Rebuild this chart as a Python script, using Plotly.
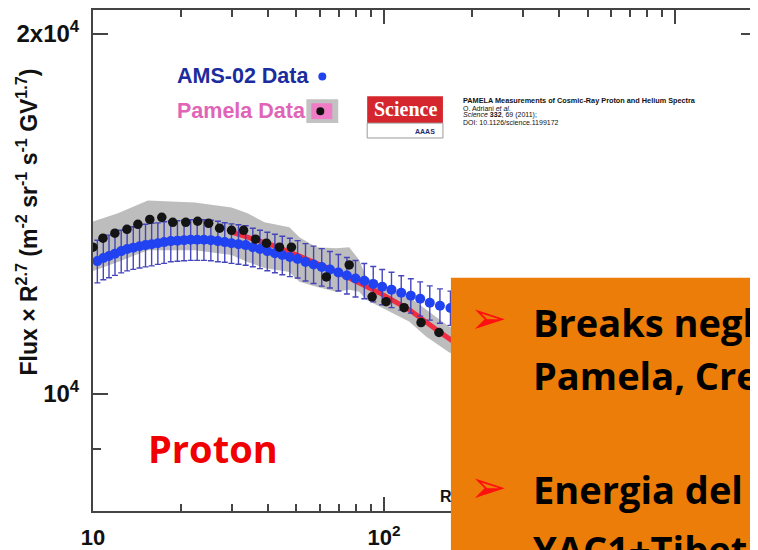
import plotly.graph_objects as go

# ---------------- data ----------------
ams_R = [10.35, 10.85, 11.35, 11.9, 12.5, 13.1, 13.75, 14.45, 15.15, 15.9,
         16.7, 17.55, 18.5, 19.5, 20.55, 21.65, 22.8, 24.05, 25.4, 26.85,
         28.35, 29.9, 31.6, 33.45, 35.4, 37.45, 39.7, 42.15, 44.7, 47.45,
         50.45, 53.7, 57.25, 61.05, 65.15, 69.65, 74.5, 79.75, 85.5, 91.75,
         98.5, 106, 114.5, 123.5, 133, 143.5, 155.5, 169]
ams_F = [12914, 12990, 13040, 13100, 13164, 13216, 13252, 13290, 13317, 13342,
         13366, 13394, 13420, 13432, 13445, 13457, 13457, 13457, 13445, 13420,
         13394, 13366, 13342, 13317, 13265, 13216, 13164, 13113, 13064, 13014,
         12966, 12892, 12829, 12767, 12708, 12635, 12562, 12490, 12433, 12359,
         12290, 12223, 12152, 12083, 12012, 11920, 11850, 11800]
ams_err_pct = [4.1, 4.1, 4.1, 4.1, 4.1, 4.1, 4.1, 4.1, 4.1, 4.1,
               4.0, 4.0, 3.9, 3.9, 3.9, 3.9, 3.9, 3.9, 3.9, 3.9,
               3.8, 3.8, 3.8, 3.8, 3.7, 3.7, 3.7, 3.7, 3.7, 3.7,
               3.6, 3.6, 3.6, 3.6, 3.5, 3.5, 3.5, 3.5, 3.4, 3.4,
               3.4, 3.4, 3.3, 3.3, 3.3, 3.3, 3.3, 3.3]

pam_R = [10.0, 10.82, 11.89, 13.08, 14.26, 15.67, 17.23, 18.79, 20.83, 22.88,
         24.96, 27.22, 29.92, 32.90, 36.16, 39.44, 43.70, 48.03, 63.31, 75.88,
         90.97, 101.6, 117.1, 133.9, 154.3]
pam_F = [13265, 13497, 13625, 13729, 13862, 13993, 14048, 13914, 13914, 13943,
         13888, 13757, 13703, 13703, 13471, 13366, 13265, 13265, 12526, 12818,
         12057, 11944, 11806, 11472, 11256]

band_R = [9.8, 12.18, 15.43, 18.06, 22.35, 29.92, 33.95, 38.82, 47.28, 51.17,
          58.50, 68.48, 75.88, 82.11, 86.78, 101.6, 121.8, 139.3, 167.0, 211.5]
band_hi = [13914, 14157, 14511, 14484, 14454, 14318, 14157, 13914, 13783, 13521,
           13265, 13240, 13265, 12939, 12526, 12290, 12057, 11763, 11385, 11107]
band_lo = [12647, 12892, 13189, 13189, 13189, 13064, 12892, 12743, 12647, 12409,
           12290, 12175, 12223, 12175, 11989, 11763, 11495, 11171, 10835, 10590]

fit_R = [29.92, 40.39, 51.17, 70.12, 96.14, 121.8, 154.3, 180.6]
fit_F = [13652, 13342, 13039, 12621, 12152, 11763, 11276, 10980]

x_tickvals = [10, 100, 1000]
x_ticktext = ["<b>10</b>", "<b>10<sup>2</sup></b>", ""]
x_minor = [20, 30, 40, 50, 60, 70, 80, 90, 200, 300, 400, 500, 600, 700, 800, 900]
y_tickvals = [10000, 20000]
y_ticktext = ["<b>10<sup>4</sup></b>", "<b>2x10<sup>4</sup></b>"]
y_minor = [9000]

# ---------------- geometry (page pixels; the page body adds an 8 px offset) ----------------
OFF = 8
L, Rpx, T, B = 93, 758, 8, 513
W, H = Rpx - L, B - T
FIG_W, FIG_H = 758 - OFF, 550 - OFF


def px(x):
    return (x - L) / W


def py(y):
    return (B - y) / H


fig = go.Figure()

# Pamela systematic band
fig.add_trace(go.Scatter(
    x=band_R + band_R[::-1], y=band_hi + band_lo[::-1],
    fill="toself", fillcolor="#bdbdbd", line=dict(width=0),
    mode="lines", hoverinfo="skip"))

# Pamela fit line
fig.add_trace(go.Scatter(
    x=fit_R, y=fit_F, mode="lines",
    line=dict(color="rgba(245,30,50,0.9)", width=5)))

# AMS-02 data
ams_err = [f * p / 100 for f, p in zip(ams_F, ams_err_pct)]
fig.add_trace(go.Scatter(
    x=ams_R, y=ams_F, mode="markers",
    marker=dict(size=10, color="#2142f0"),
    error_y=dict(type="data", array=ams_err, arrayminus=ams_err,
                 color="rgba(60,60,185,0.95)", thickness=1.4, width=3)))

# Pamela data
fig.add_trace(go.Scatter(
    x=pam_R, y=pam_F, mode="markers",
    marker=dict(size=9.5, color="#141414")))

axis_common = dict(
    showline=True, linecolor="#444", linewidth=2, mirror="allticks",
    ticks="inside", tickcolor="#444", tickwidth=1.5,
    showgrid=False, zeroline=False,
)

fig.update_layout(
    width=FIG_W, height=FIG_H,
    margin=dict(l=L - OFF, r=0, t=T - OFF, b=FIG_H - (B - OFF)),
    paper_bgcolor="white", plot_bgcolor="white",
    showlegend=False,
    font=dict(family="Liberation Sans"),
    xaxis=dict(type="log", range=[1, 3.2774], tickmode="array",
               tickvals=x_tickvals, ticktext=x_ticktext, ticklen=14,
               ticklabelstandoff=6,
               tickfont=dict(family="Liberation Sans", size=22, color="#111"),
               minor=dict(tickmode="array", tickvals=x_minor, ticks="inside",
                          ticklen=7, tickwidth=1.5, tickcolor="#444",
                          showgrid=False),
               **axis_common),
    yaxis=dict(type="log", range=[3.9022, 4.3209], tickmode="array",
               tickvals=y_tickvals, ticktext=y_ticktext, ticklen=15,
               ticklabelstandoff=7,
               tickfont=dict(family="Liberation Sans", size=24, color="#111"),
               minor=dict(tickmode="array", tickvals=y_minor, ticks="inside",
                          ticklen=8, tickwidth=1.5, tickcolor="#444",
                          showgrid=False),
               **axis_common),
)

shapes = []
ann = []


def rect(x0, y0, x1, y1, fill, line_color=None, lw=0, kind="rect"):
    shapes.append(dict(type=kind, xref="paper", yref="paper",
                       x0=px(x0), x1=px(x1), y0=py(y1), y1=py(y0),
                       fillcolor=fill, layer="above",
                       line=dict(color=line_color or fill, width=lw)))


def text(x, y, s, size, color="#111", family="Liberation Sans",
         xanchor="center", angle=0):
    ann.append(dict(xref="paper", yref="paper", x=px(x), y=py(y), text=s,
                    showarrow=False, xanchor=xanchor, yanchor="middle",
                    textangle=angle,
                    font=dict(family=family, size=size, color=color)))


# legend
text(175, 75, "<b>AMS-02 Data</b>", 21.5, color="#1b2c9e", xanchor="left")
rect(319, 71, 327, 79, "#2142f0", kind="circle")
text(175, 110, "<b>Pamela Data</b>", 21.5, color="#e064b8", xanchor="left")
rect(307, 98, 339, 122, "#c2c2c2")
rect(312, 102, 333, 118, "#f07cc6")
rect(317, 106, 325, 114, "#111111", kind="circle")

# Science logo and citation
rect(368, 95, 444, 122, "#d6262d")
rect(368, 122, 444, 137, "#ffffff", line_color="#9a9a9a", lw=1)
text(406, 108, "<b>Science</b>", 20, color="white", family="Liberation Serif")
text(438, 130, "<b>AAAS</b>", 7, color="#1c2a70", xanchor="right")
text(462, 99, "<b>PAMELA Measurements of Cosmic-Ray Proton and Helium Spectra</b>",
     7.3, xanchor="left")
text(462, 107, "O. Adriani <i>et al.</i>", 7, xanchor="left")
text(462, 114, "<i>Science</i> <b>332</b>, 69 (2011);", 7, xanchor="left")
text(462, 121, "DOI: 10.1126/science.1199172", 7, xanchor="left")

# axis titles
text(27, 222, "<b>Flux × R<sup>2.7</sup> (m<sup>-2</sup> sr<sup>-1</sup> "
     "s<sup>-1</sup> GV<sup>1.7</sup>)</b>", 23, angle=-90)
text(447, 498, "<b>R</b>", 16)

# Proton label
text(213, 450, "<b>Proton</b>", 38, color="#f00000", family="Open Sans")

# orange overlay box
rect(452, 278, 780, 570, "#ec7d09")
text(490, 318, "➢", 44, color="#ff1010", family="DejaVu Sans")
text(490, 488, "➢", 44, color="#ff1010", family="DejaVu Sans")
text(532, 322, "<b>Breaks negl</b>", 38, color="#000", family="Open Sans",
     xanchor="left")
text(532, 376, "<b>Pamela, Cre</b>", 38, color="#000", family="Open Sans",
     xanchor="left")
text(532, 491, "<b>Energia del</b>", 38, color="#000", family="Open Sans",
     xanchor="left")
text(532, 551, "<b>YAC1+Tibet</b>", 38, color="#000", family="Open Sans",
     xanchor="left")

fig.update_layout(shapes=shapes, annotations=ann)
fig.write_html("out.html")
